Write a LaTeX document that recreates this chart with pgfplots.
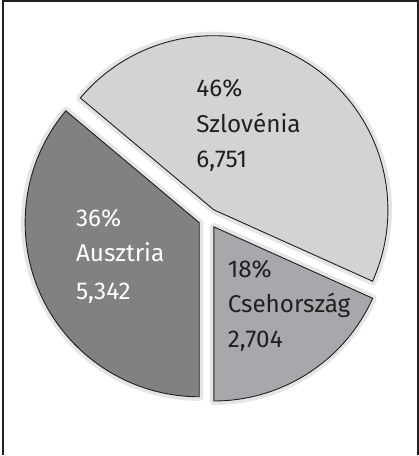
\documentclass[border=0pt]{standalone}
\usepackage{pgfplots}
\pgfplotsset{compat=1.18}
\usepackage{pgfplotstable}
\usepackage{fontspec}
\setmainfont{Fira Sans}
\definecolor{slov}{RGB}{210,211,213}
\definecolor{csch}{RGB}{167,168,171}
\definecolor{ausz}{RGB}{128,129,131}
\definecolor{edge}{RGB}{35,31,32}

\pgfplotstableread{
name value
Csehorszag 2704
Szlovenia 6751
Ausztria 5342
}\piedata
\pgfplotstablegetelem{0}{value}\of\piedata \let\vC\pgfplotsretval
\pgfplotstablegetelem{1}{value}\of\piedata \let\vS\pgfplotsretval
\pgfplotstablegetelem{2}{value}\of\piedata \let\vA\pgfplotsretval
\pgfmathsetmacro\tot{\vC+\vS+\vA}
\pgfmathsetmacro\aZero{-90}
\pgfmathsetmacro\aOne{-90+\vC/\tot*360}
\pgfmathsetmacro\aTwo{\aOne+\vS/\tot*360}
\pgfmathsetmacro\aThree{270}
% exploded centres
\def\bx{210}\def\by{234}\def\ex{10}
\pgfmathsetmacro\mC{(\aZero+\aOne)/2}
\pgfmathsetmacro\mS{(\aOne+\aTwo)/2}
\pgfmathsetmacro\mA{(\aTwo+\aThree)/2}
\pgfmathsetmacro\cCx{\bx+\ex*cos(\mC)}\pgfmathsetmacro\cCy{\by+\ex*sin(\mC)}
\pgfmathsetmacro\cSx{\bx+\ex*cos(\mS)}\pgfmathsetmacro\cSy{\by+\ex*sin(\mS)}
\pgfmathsetmacro\cAx{\bx+\ex*cos(\mA)}\pgfmathsetmacro\cAy{\by+\ex*sin(\mA)}
\def\R{172pt}

\begin{document}
\begin{tikzpicture}
\begin{axis}[hide axis, scale only axis, width=421pt, height=456pt,
  xmin=0, xmax=421, ymin=0, ymax=456, clip=false]
% soft shadow
\foreach \cx/\cy/\s/\e in {\cCx/\cCy/\aZero/\aOne, \cSx/\cSy/\aOne/\aTwo, \cAx/\cAy/\aTwo/\aThree}{
  \edef\tmp{\noexpand\draw[black!10, line width=8pt, line join=round] (axis cs:\cx,\cy) -- ++(\s:\R) arc[start angle=\s, end angle=\e, radius=\R] -- cycle;}
  \tmp
}
\draw[fill=csch, draw=edge, line width=0.9pt] (axis cs:\cCx,\cCy) -- ++(\aZero:\R) arc[start angle=\aZero, end angle=\aOne, radius=\R] -- cycle;
\draw[fill=slov, draw=edge, line width=0.9pt] (axis cs:\cSx,\cSy) -- ++(\aOne:\R) arc[start angle=\aOne, end angle=\aTwo, radius=\R] -- cycle;
\draw[fill=ausz, draw=edge, line width=0.9pt] (axis cs:\cAx,\cAy) -- ++(\aTwo:\R) arc[start angle=\aTwo, end angle=\aThree, radius=\R] -- cycle;
% labels
\tikzset{lab/.style={anchor=base west, inner sep=0pt, font=\fontsize{24}{30}\selectfont}}
\node[lab, text=edge] at (axis cs:198,354) {46\%};
\node[lab, text=edge] at (axis cs:198,319) {Szlovénia};
\node[lab, text=edge] at (axis cs:198,284) {6,751};
\node[lab, text=white] at (axis cs:79,226) {36\%};
\node[lab, text=white] at (axis cs:79,191) {Ausztria};
\node[lab, text=white] at (axis cs:79,154) {5,342};
\node[lab, text=edge] at (axis cs:229,176) {18\%};
\node[lab, text=edge] at (axis cs:229,141) {Csehország};
\node[lab, text=edge] at (axis cs:229,106) {2,704};
% frame
\draw[edge, line width=1.5pt] (axis cs:7,0) -- (axis cs:7,449) -- (axis cs:417,449) -- (axis cs:417,0);
\end{axis}
\end{tikzpicture}
\end{document}
